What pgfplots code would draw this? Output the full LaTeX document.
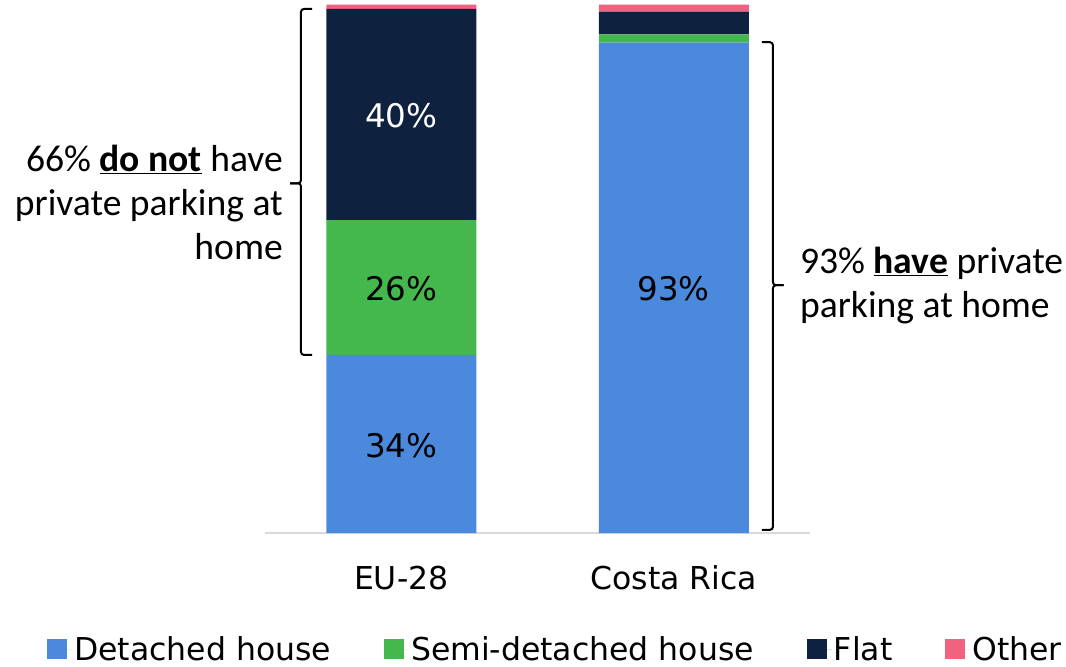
\documentclass[border=0pt]{standalone}
\usepackage{pgfplots}
\pgfplotsset{compat=1.18}
\usepackage{fontspec}
\setmainfont{DejaVu Sans}
\newfontfamily\calibri{Carlito}
\definecolor{cBlue}{RGB}{74,137,220}
\definecolor{cGreen}{RGB}{68,184,76}
\definecolor{cNavy}{RGB}{14,34,64}
\definecolor{cPink}{RGB}{240,98,128}
\definecolor{cAxis}{RGB}{217,217,217}
\newcommand\vfont{\fontsize{31.5bp}{38bp}\selectfont}
\newcommand\bfontl{\fontsize{32.5bp}{38bp}\selectfont}
\newcommand\cfont{\calibri\fontsize{37.6bp}{44bp}\selectfont}
\begin{document}
\begin{tikzpicture}
\useasboundingbox (0bp,0bp) rectangle (1066bp,667bp);
\begin{axis}[
  at={(265bp,134bp)}, anchor=south west,
  scale only axis, width=545bp, height=528.3bp,
  ybar stacked, bar width=150bp,
  xmin=-0.5, xmax=1.5, ymin=0, ymax=100,
  enlargelimits=false,
  axis x line=bottom, axis y line=none,
  x axis line style={draw=cAxis, line width=1.5bp, -},
  xtick={0,1}, xticklabels={EU-28, Costa Rica},
  xtick style={draw=none},
  xticklabel style={font=\vfont, yshift=-27bp},
  clip=false,
  legend columns=4,
  legend style={draw=none, fill=none, font=\vfont, at={(0.533,-0.2200)}, anchor=center,
    /tikz/every even column/.append style={column sep=51bp}},
  legend image code/.code={\fill[#1] (0bp,-10bp) rectangle (20bp,10bp);\path (0bp,0bp) -- (25bp,0bp);},
]
\addplot[fill=cBlue, draw=none] coordinates {(0,33.7) (1,92.8)};
\addlegendentry{Detached house}
\addplot[fill=cGreen, draw=none] coordinates {(0,25.5) (1,1.6)};
\addlegendentry{Semi-detached house}
\addplot[fill=cNavy, draw=none] coordinates {(0,40.0) (1,4.3)};
\addlegendentry{Flat}
\addplot[fill=cPink, draw=none] coordinates {(0,0.8) (1,1.3)};
\addlegendentry{Other}

\coordinate (lA) at (axis cs:0,16.5);
\coordinate (lB) at (axis cs:0,46.2);
\coordinate (lC) at (axis cs:0,79.0);
\coordinate (lD) at (axis cs:1,46.3);

\draw[line width=2bp, rounded corners=3bp]
  (axis cs:-0.3275,99.2) -- (axis cs:-0.368,99.2) -- (axis cs:-0.368,66.2) -- (axis cs:-0.408,66.2);
\draw[line width=2bp, rounded corners=3bp]
  (axis cs:-0.408,66.2) -- (axis cs:-0.368,66.2) -- (axis cs:-0.368,33.7) -- (axis cs:-0.3275,33.7);
\draw[line width=2bp, rounded corners=3bp]
  (axis cs:1.3238,92.9) -- (axis cs:1.364,92.9) -- (axis cs:1.364,46.9) -- (axis cs:1.4033,46.9);
\draw[line width=2bp, rounded corners=3bp]
  (axis cs:1.4033,46.9) -- (axis cs:1.364,46.9) -- (axis cs:1.364,0.6) -- (axis cs:1.3238,0.6);

\node[anchor=east, align=right, font=\cfont, inner sep=0pt] at (axis cs:-0.434,62.5)
  {66\% \underline{\textbf{do not}} have\\private parking at\\home};
\node[anchor=west, align=left, font=\cfont, inner sep=0pt] at (axis cs:1.463,46.8)
  {93\% \underline{\textbf{have}} private\\parking at home};
\end{axis}
\node[font=\bfontl] at (lA) {34\%};
\node[font=\bfontl] at (lB) {26\%};
\node[font=\bfontl, text=white] at (lC) {40\%};
\node[font=\bfontl] at (lD) {93\%};
\end{tikzpicture}
\end{document}
